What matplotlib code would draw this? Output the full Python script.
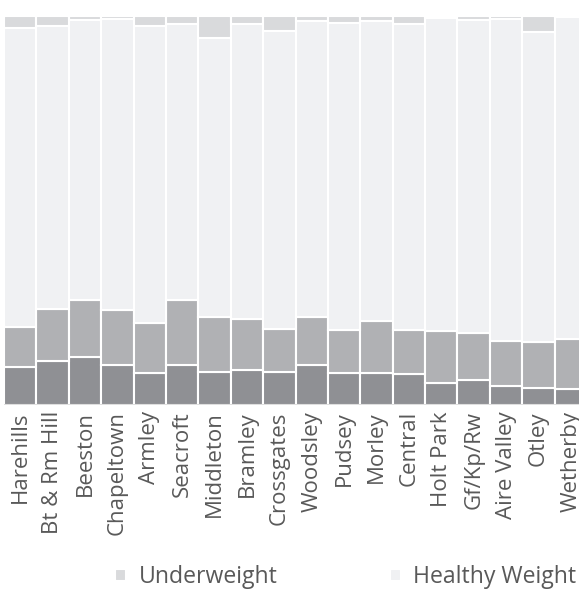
import numpy as np
import matplotlib.pyplot as plt

# Share of children by weight category per area (%)
areas = ['Harehills', 'Bt & Rm Hill', 'Beeston', 'Chapeltown', 'Armley', 'Seacroft',
         'Middleton', 'Bramley', 'Crossgates', 'Woodsley', 'Pudsey', 'Morley',
         'Central', 'Holt Park', 'Gf/Kp/Rw', 'Aire Valley', 'Otley', 'Wetherby']
obese = [9.8, 11.3, 12.3, 10.3, 8.2, 10.3, 8.5, 9.0, 8.5, 10.2, 8.2, 8.2,
         8.0, 5.7, 6.4, 4.9, 4.4, 4.0]
overweight = [10.2, 13.3, 14.8, 14.1, 12.8, 16.6, 14.1, 13.0, 11.0, 12.3, 11.0, 13.3,
              11.2, 13.3, 12.1, 11.5, 11.7, 12.9]
underweight = [3.1, 2.6, 1.1, 0.85, 2.5, 2.0, 5.7, 2.0, 3.9, 1.4, 1.8, 1.2,
               2.1, 0.6, 1.1, 0.8, 4.1, 0.3]

obese = np.array(obese)
overweight = np.array(overweight)
underweight = np.array(underweight)
healthy = 100 - obese - overweight - underweight

c_obese = '#8f9094'
c_over = '#b0b1b4'
c_healthy = '#f0f1f3'
c_under = '#d9dadc'

fig = plt.figure(figsize=(5.79, 5.92), dpi=100)
# axes runs past the right edge, as in the original (last bar is cut)
ax = fig.add_axes([4 / 579, 187 / 592, 583 / 579, 389 / 592])

x = np.arange(len(areas))
kw = dict(width=1.0, edgecolor='white', linewidth=1.5)
ax.bar(x, obese, color=c_obese, label='Obese', **kw)
ax.bar(x, overweight, bottom=obese, color=c_over, label='Overweight', **kw)
b_h = ax.bar(x, healthy, bottom=obese + overweight, color=c_healthy,
             label='Healthy Weight', **kw)
b_u = ax.bar(x, underweight, bottom=obese + overweight + healthy, color=c_under,
             label='Underweight', **kw)

ax.axhline(100.3, color='#e6e6e6', lw=1, zorder=0)
ax.set_xlim(-0.5, len(areas) - 0.5)
ax.set_ylim(0, 100)

for s in ax.spines.values():
    s.set_visible(False)
ax.axhline(0, color='#d9d9d9', lw=1.2)

ax.set_yticks([])
ax.set_xticks(x)
ax.set_xticklabels(areas, rotation=90, fontsize=16, color='#595959',
                   family='Open Sans')
ax.tick_params(axis='x', length=0, pad=4.5)

fig.legend([b_u, b_h], ['Underweight', 'Healthy Weight'], ncol=2,
           loc='center', bbox_to_anchor=(346 / 579, 1 - 577 / 592),
           frameon=False, prop={'family': 'Open Sans', 'size': 16.6},
           labelcolor='#595959', handlelength=0.45, handleheight=0.45,
           handletextpad=0.55, columnspacing=4.9)

plt.savefig('out.png', dpi=100)
